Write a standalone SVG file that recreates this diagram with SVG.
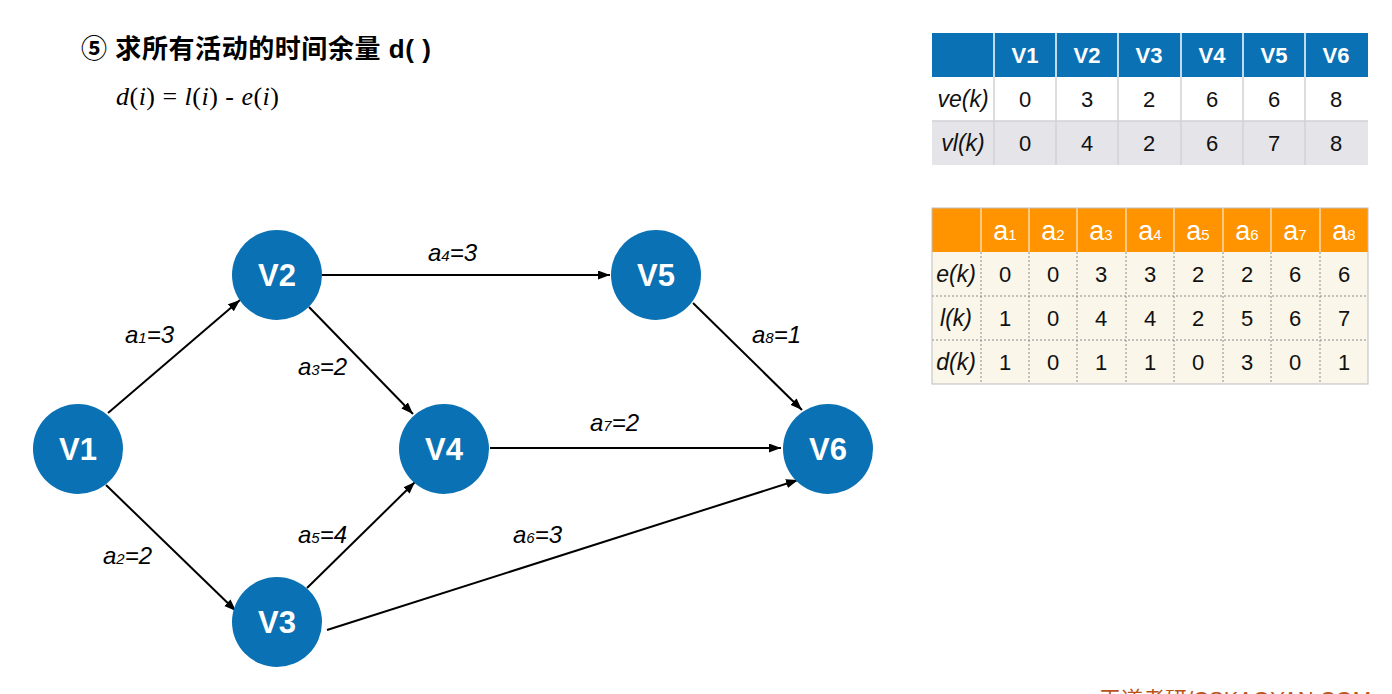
<svg xmlns="http://www.w3.org/2000/svg" width="1392" height="694" viewBox="0 0 1392 694">
<style>
.title{font-family:"Liberation Sans","Noto Sans CJK SC",sans-serif;font-weight:bold;font-size:26px;fill:#000}
.formula{font-family:"Liberation Serif",serif;font-size:26px;fill:#000}
.it{font-style:italic}
.node circle{fill:#0A71B4}
.node text{font-family:"Liberation Sans",Arial,sans-serif;font-weight:bold;font-size:31px;fill:#fff;text-anchor:middle}
.edge{stroke:#000;stroke-width:2;fill:none}
.lbl{font-family:"Liberation Sans",Arial,sans-serif;font-style:italic;font-size:24px;fill:#000}
.sub{font-size:15px}
.th{font-family:"Liberation Sans",Arial,sans-serif;font-weight:bold;font-size:22px;fill:#fff;text-anchor:middle}
.td{font-family:"Liberation Sans",Arial,sans-serif;font-size:22px;fill:#111;text-anchor:middle}
.rl{font-family:"Liberation Sans",Arial,sans-serif;font-style:italic;font-size:23px;fill:#111;text-anchor:middle}
.ah{font-family:"Liberation Sans",Arial,sans-serif;font-size:27px;fill:#fff;text-anchor:middle}
.ahs{font-size:15px}
.dot{stroke:#8a8a8a;stroke-width:1;stroke-dasharray:2,2}
</style>
<defs>
<marker id="arr" markerUnits="userSpaceOnUse" markerWidth="14" markerHeight="10" refX="12" refY="4.5" orient="auto">
<path d="M0,0 L12,4.5 L0,9 z" fill="#000"/>
</marker>
</defs>
<rect width="1392" height="694" fill="#fff"/>

<text class="title" x="81" y="58" textLength="350" lengthAdjust="spacing">⑤ 求所有活动的时间余量 d( )</text>
<text class="formula" x="116" y="105" textLength="163" lengthAdjust="spacing"><tspan class="it">d</tspan>(<tspan class="it">i</tspan>) = <tspan class="it">l</tspan>(<tspan class="it">i</tspan>) - <tspan class="it">e</tspan>(<tspan class="it">i</tspan>)</text>

<g id="connectors">
<line class="edge" x1="108" y1="413" x2="240" y2="300" marker-end="url(#arr)"/>
<line class="edge" x1="106" y1="485" x2="236" y2="611" marker-end="url(#arr)"/>
<line class="edge" x1="322" y1="275" x2="610" y2="275" marker-end="url(#arr)"/>
<line class="edge" x1="309" y1="307" x2="413" y2="414" marker-end="url(#arr)"/>
<line class="edge" x1="307" y1="588" x2="415" y2="482" marker-end="url(#arr)"/>
<line class="edge" x1="327" y1="630" x2="798" y2="480" marker-end="url(#arr)"/>
<line class="edge" x1="490" y1="448" x2="781" y2="448" marker-end="url(#arr)"/>
<line class="edge" x1="693" y1="303" x2="802" y2="410" marker-end="url(#arr)"/>
<text class="lbl" x="125" y="343">a<tspan class="sub">1</tspan>=3</text>
<text class="lbl" x="103" y="564">a<tspan class="sub">2</tspan>=2</text>
<text class="lbl" x="298" y="375">a<tspan class="sub">3</tspan>=2</text>
<text class="lbl" x="428" y="261">a<tspan class="sub">4</tspan>=3</text>
<text class="lbl" x="298" y="543">a<tspan class="sub">5</tspan>=4</text>
<text class="lbl" x="513" y="543">a<tspan class="sub">6</tspan>=3</text>
<text class="lbl" x="590" y="431">a<tspan class="sub">7</tspan>=2</text>
<text class="lbl" x="752" y="343">a<tspan class="sub">8</tspan>=1</text>
</g>

<g id="V1" class="node"><circle cx="78" cy="449" r="45"/><text x="78" y="460">V1</text></g>
<g id="V2" class="node"><circle cx="277" cy="275" r="45"/><text x="277" y="286">V2</text></g>
<g id="V3" class="node"><circle cx="277" cy="622" r="45"/><text x="277" y="633">V3</text></g>
<g id="V4" class="node"><circle cx="444" cy="449" r="45"/><text x="444" y="460">V4</text></g>
<g id="V5" class="node"><circle cx="656" cy="275" r="45"/><text x="656" y="286">V5</text></g>
<g id="V6" class="node"><circle cx="828" cy="449" r="45"/><text x="828" y="460">V6</text></g>

<g id="table-v">
<rect x="932" y="33" width="436" height="44" fill="#0A71B4"/>
<rect x="932" y="77" width="436" height="44" fill="#fff"/>
<rect x="932" y="121" width="436" height="44" fill="#E4E4E9"/>
<g stroke="#fff" stroke-width="1.5">
<line x1="994" y1="33" x2="994" y2="77"/><line x1="1056" y1="33" x2="1056" y2="77"/><line x1="1118" y1="33" x2="1118" y2="77"/><line x1="1181" y1="33" x2="1181" y2="77"/><line x1="1243" y1="33" x2="1243" y2="77"/><line x1="1305" y1="33" x2="1305" y2="77"/>
</g>
<g stroke="#D2D2D6" stroke-width="1.5">
<line x1="994" y1="77" x2="994" y2="165"/><line x1="1056" y1="77" x2="1056" y2="165"/><line x1="1118" y1="77" x2="1118" y2="165"/><line x1="1181" y1="77" x2="1181" y2="165"/><line x1="1243" y1="77" x2="1243" y2="165"/><line x1="1305" y1="77" x2="1305" y2="165"/>
<line x1="932" y1="121" x2="1368" y2="121"/>
</g>
<text class="th" x="1025" y="63">V1</text><text class="th" x="1087" y="63">V2</text><text class="th" x="1149" y="63">V3</text><text class="th" x="1212" y="63">V4</text><text class="th" x="1274" y="63">V5</text><text class="th" x="1336" y="63">V6</text>
<text class="rl" x="963" y="107">ve(k)</text>
<text class="td" x="1025" y="107">0</text><text class="td" x="1087" y="107">3</text><text class="td" x="1149" y="107">2</text><text class="td" x="1212" y="107">6</text><text class="td" x="1274" y="107">6</text><text class="td" x="1336" y="107">8</text>
<text class="rl" x="963" y="151">vl(k)</text>
<text class="td" x="1025" y="151">0</text><text class="td" x="1087" y="151">4</text><text class="td" x="1149" y="151">2</text><text class="td" x="1212" y="151">6</text><text class="td" x="1274" y="151">7</text><text class="td" x="1336" y="151">8</text>
</g>

<g id="table-a">
<rect x="932" y="208" width="436" height="44" fill="#FF9300"/>
<rect x="932" y="252" width="436" height="132" fill="#FAF6EA"/>
<g class="dot">
<line x1="981" y1="252" x2="981" y2="384"/><line x1="1029" y1="252" x2="1029" y2="384"/><line x1="1077" y1="252" x2="1077" y2="384"/><line x1="1126" y1="252" x2="1126" y2="384"/><line x1="1174" y1="252" x2="1174" y2="384"/><line x1="1223" y1="252" x2="1223" y2="384"/><line x1="1271" y1="252" x2="1271" y2="384"/><line x1="1320" y1="252" x2="1320" y2="384"/>
<line x1="932" y1="296" x2="1368" y2="296"/><line x1="932" y1="340" x2="1368" y2="340"/>
</g>
<g stroke="#fff" stroke-width="1">
<line x1="981" y1="208" x2="981" y2="252"/><line x1="1029" y1="208" x2="1029" y2="252"/><line x1="1077" y1="208" x2="1077" y2="252"/><line x1="1126" y1="208" x2="1126" y2="252"/><line x1="1174" y1="208" x2="1174" y2="252"/><line x1="1223" y1="208" x2="1223" y2="252"/><line x1="1271" y1="208" x2="1271" y2="252"/><line x1="1320" y1="208" x2="1320" y2="252"/>
</g>
<rect x="932" y="208" width="436" height="176" fill="none" stroke="#BDBDBD" stroke-width="1"/>
<text class="ah" x="1005" y="240">a<tspan class="ahs">1</tspan></text><text class="ah" x="1053" y="240">a<tspan class="ahs">2</tspan></text><text class="ah" x="1101" y="240">a<tspan class="ahs">3</tspan></text><text class="ah" x="1150" y="240">a<tspan class="ahs">4</tspan></text><text class="ah" x="1198" y="240">a<tspan class="ahs">5</tspan></text><text class="ah" x="1247" y="240">a<tspan class="ahs">6</tspan></text><text class="ah" x="1295" y="240">a<tspan class="ahs">7</tspan></text><text class="ah" x="1344" y="240">a<tspan class="ahs">8</tspan></text>
<text class="rl" x="956" y="282">e(k)</text>
<text class="td" x="1005" y="282">0</text><text class="td" x="1053" y="282">0</text><text class="td" x="1101" y="282">3</text><text class="td" x="1150" y="282">3</text><text class="td" x="1198" y="282">2</text><text class="td" x="1247" y="282">2</text><text class="td" x="1295" y="282">6</text><text class="td" x="1344" y="282">6</text>
<text class="rl" x="956" y="326">l(k)</text>
<text class="td" x="1005" y="326">1</text><text class="td" x="1053" y="326">0</text><text class="td" x="1101" y="326">4</text><text class="td" x="1150" y="326">4</text><text class="td" x="1198" y="326">2</text><text class="td" x="1247" y="326">5</text><text class="td" x="1295" y="326">6</text><text class="td" x="1344" y="326">7</text>
<text class="rl" x="956" y="370">d(k)</text>
<text class="td" x="1005" y="370">1</text><text class="td" x="1053" y="370">0</text><text class="td" x="1101" y="370">1</text><text class="td" x="1150" y="370">1</text><text class="td" x="1198" y="370">0</text><text class="td" x="1247" y="370">3</text><text class="td" x="1295" y="370">0</text><text class="td" x="1344" y="370">1</text>
</g>

<text x="1099" y="707" font-family="Liberation Sans,Noto Sans CJK SC,sans-serif" font-size="22" fill="#B9531C">王道考研/CSKAOYAN.COM</text>
</svg>
